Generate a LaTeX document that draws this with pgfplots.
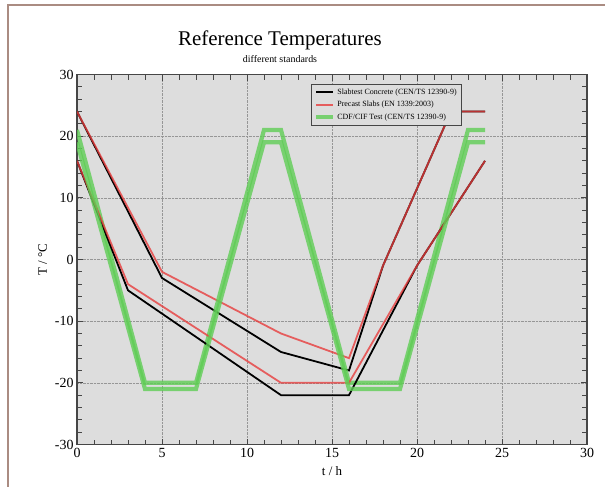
\documentclass[border=0pt]{standalone}
\usepackage{fontspec}
\setmainfont{Liberation Serif}
\usepackage{pgfplots}
\pgfplotsset{compat=1.18}
\definecolor{plotbg}{RGB}{221,221,221}
\definecolor{gridgray}{RGB}{150,150,150}
\definecolor{axisgray}{RGB}{70,70,70}
\definecolor{slabred}{RGB}{232,62,62}
\definecolor{cdfgreen}{RGB}{95,205,85}
\definecolor{framebrown}{RGB}{170,140,130}

\begin{document}
\begin{tikzpicture}
\begin{axis}[scale only axis,width=510bp,height=370bp,
  xmin=0,xmax=30,ymin=-30,ymax=30,
  xtick={0,5,...,30},ytick={-30,-20,...,30},
  minor x tick num=4,minor y tick num=4,
  tick align=inside,major tick length=6bp,minor tick length=5bp,
  tick style={axisgray,line width=1pt},
  axis line style={axisgray,line width=1.5pt},
  axis background/.style={fill=plotbg},
  grid=major,grid style={gridgray,densely dotted,line width=0.6pt},
  /pgf/number format/assume math mode=true,
  tick label style={font=\fontsize{14}{14}\selectfont},
  xlabel={t / h},ylabel={T / °C},
  label style={font=\fontsize{13}{13}\selectfont},
  xlabel style={yshift=-2bp},ylabel style={yshift=1bp},
  title={\fontsize{21}{21}\selectfont Reference Temperatures\\[5bp]\fontsize{10}{10}\selectfont different standards},
  title style={align=center,yshift=2bp,xshift=-52bp},
  legend style={at={(rel axis cs:0.755,0.973)},anchor=north east,
    fill=plotbg,draw=axisgray,line width=0.8pt,
    font=\fontsize{8}{8}\selectfont,row sep=1.5bp},
  legend cell align=left]
% upper limits
\addplot[black,line width=1.8pt] coordinates
  {(0,24) (5,-3) (12,-15) (16,-18) (18,-1) (22,24) (24,24)};
\addlegendentry{Slabtest Concrete (CEN/TS 12390-9)}
\addplot[slabred,line width=1.8pt,opacity=0.8] coordinates
  {(0,24) (5,-2) (12,-12) (16,-16) (18,-1) (22,24) (24,24)};
\addlegendentry{Precast Slabs (EN 1339:2003)}
\addplot[cdfgreen,line width=4.2pt,opacity=0.8] coordinates
  {(0,21) (4,-20) (7,-20) (11,21) (12,21) (16,-20) (19,-20) (23,21) (24,21)};
\addlegendentry{CDF/CIF Test (CEN/TS 12390-9)}
% lower limits
\addplot[black,line width=1.8pt,forget plot] coordinates
  {(0,16) (3,-5) (12,-22) (16,-22) (20,-1) (24,16)};
\addplot[slabred,line width=1.8pt,opacity=0.8,forget plot] coordinates
  {(0,16) (3,-4) (12,-20) (16,-20) (20,-1) (24,16)};
\addplot[cdfgreen,line width=4.2pt,opacity=0.8,forget plot] coordinates
  {(0,19) (4,-21) (7,-21) (11,19) (12,19) (16,-21) (19,-21) (23,19) (24,19)};
\coordinate (bl) at (rel axis cs:0,0);
\coordinate (tr) at (rel axis cs:1,1);
\end{axis}
\path[use as bounding box] ([xshift=-77bp,yshift=-42bp]bl) rectangle ([xshift=18bp,yshift=74.5bp]tr);
\draw[framebrown,line width=1.2pt] ([xshift=-69bp,yshift=-42bp]bl) -- ([xshift=-69bp,yshift=69.5bp]tr-|bl) -- ([xshift=18bp,yshift=69.5bp]tr);
\end{tikzpicture}
\end{document}
